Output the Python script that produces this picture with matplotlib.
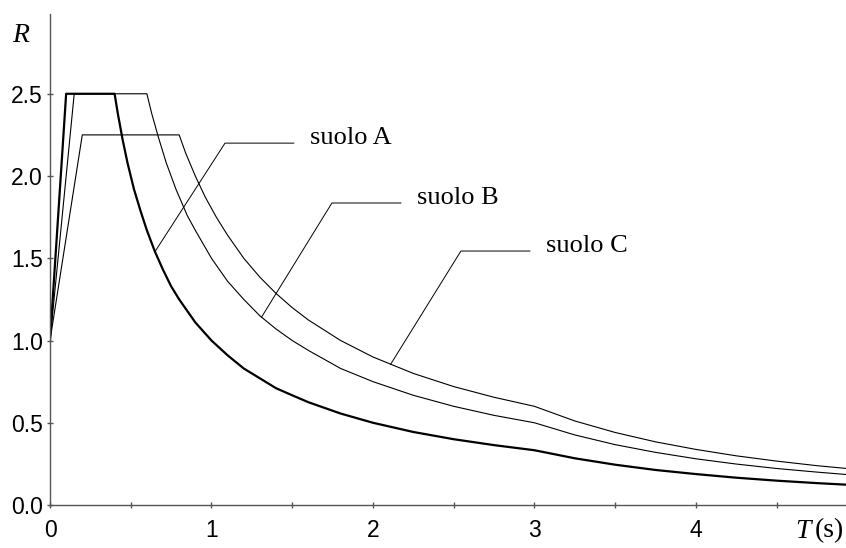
import numpy as np
import matplotlib
matplotlib.use("Agg")
import matplotlib.pyplot as plt

# spectra (T in s, R)
t_a = [0, 0.1, 0.4, 0.42, 0.45, 0.48, 0.52, 0.56, 0.6, 0.65, 0.7, 0.75, 0.8, 0.9, 1.0, 1.1,
       1.2, 1.3, 1.4, 1.5, 1.6, 1.8, 2.0, 2.25, 2.5, 2.75, 3.0, 3.25, 3.5, 3.75, 4.0, 4.25,
       4.5, 4.75, 5.0]
r_a = [1.0, 2.5, 2.5, 2.38, 2.22, 2.08, 1.92, 1.79, 1.67, 1.54, 1.43, 1.33, 1.25, 1.11, 1.0, 0.91,
       0.83, 0.77, 0.71, 0.667, 0.625, 0.556, 0.5, 0.444, 0.4, 0.364, 0.333, 0.284, 0.245, 0.213,
       0.188, 0.166, 0.148, 0.133, 0.12]

t_b = [0, 0.15, 0.6, 0.63, 0.67, 0.72, 0.78, 0.85, 0.9, 1.0, 1.1, 1.2, 1.3, 1.4, 1.5, 1.6,
       1.8, 2.0, 2.25, 2.5, 2.75, 3.0, 3.25, 3.5, 3.75, 4.0, 4.25, 4.5, 4.75, 5.0]
r_b = [1.0, 2.5, 2.5, 2.38, 2.24, 2.08, 1.92, 1.76, 1.67, 1.5, 1.36, 1.25, 1.15, 1.07, 1.0, 0.94,
       0.83, 0.75, 0.667, 0.6, 0.545, 0.5, 0.426, 0.367, 0.32, 0.281, 0.249, 0.222, 0.2, 0.18]

t_c = [0, 0.2, 0.8, 0.84, 0.9, 0.96, 1.03, 1.1, 1.2, 1.3, 1.4, 1.5, 1.6, 1.8, 2.0, 2.25,
       2.5, 2.75, 3.0, 3.25, 3.5, 3.75, 4.0, 4.25, 4.5, 4.75, 5.0]
r_c = [1.0, 2.25, 2.25, 2.14, 2.0, 1.875, 1.75, 1.64, 1.5, 1.385, 1.286, 1.2, 1.125, 1.0, 0.9, 0.8,
       0.72, 0.655, 0.6, 0.511, 0.441, 0.384, 0.338, 0.299, 0.267, 0.239, 0.216]

labels = ["suolo A", "suolo B", "suolo C"]

fig = plt.figure(figsize=(8.46, 5.48), dpi=100)
ax = fig.add_axes([50 / 846, 43 / 548, 796 / 846, 491 / 548])

ax.plot(t_a, r_a, color="black", linewidth=1.6)
ax.plot(t_b, r_b, color="black", linewidth=0.8)
ax.plot(t_c, r_c, color="black", linewidth=0.8)

# leader lines: point on curve -> corner -> end of horizontal
leaders = [
    (t_a, r_a, 0.65, 1.084, 1.51, 2.20),
    (t_b, r_b, 1.31, 1.746, 2.173, 1.836),
    (t_c, r_c, 2.11, 2.545, 2.972, 1.544),
]
for (tt, rr, tp, tx, te, ry), lab in zip(leaders, labels):
    rp = np.interp(tp, tt, rr)
    ax.plot([tp, tx, te], [rp, ry, ry], color="black", linewidth=0.7)
    ax.text(te + 0.1, ry + 0.03, lab, family="Liberation Serif", fontsize=19,
            ha="left", va="center")

ax.set_xlim(0, 4.93)
ax.set_ylim(0, 2.985)
ax.set_xticks([0, 1, 2, 3, 4])
ax.set_xticks([0.5, 1.5, 2.5, 3.5, 4.5], minor=True)
ax.set_yticks([0, 0.5, 1.0, 1.5, 2.0, 2.5])
ax.set_yticklabels(["0.0", "0.5", "1.0", "1.5", "2.0", "2.5"])

for s in ["top", "right"]:
    ax.spines[s].set_visible(False)
for s in ["left", "bottom"]:
    ax.spines[s].set_color("#555555")
    ax.spines[s].set_linewidth(1.0)

ax.tick_params(which="both", direction="inout", length=4.5, width=1.0, color="#555555",
               labelsize=16.5)
ax.tick_params(axis="x", pad=8)
ax.tick_params(axis="y", pad=3)
for lbl in ax.get_xticklabels() + ax.get_yticklabels():
    lbl.set_family("Liberation Sans")

fig.text(12 / 846, 1 - 36 / 548, "R", family="Liberation Serif", style="italic",
         fontsize=20, ha="left", va="center")
fig.text(811 / 846, 1 - 531 / 548, "T", family="Liberation Serif", style="italic",
         fontsize=20, ha="right", va="center")
fig.text(815 / 846, 1 - 531 / 548, "(s)", family="Liberation Serif",
         fontsize=20, ha="left", va="center")

fig.savefig("out.png", dpi=100)
